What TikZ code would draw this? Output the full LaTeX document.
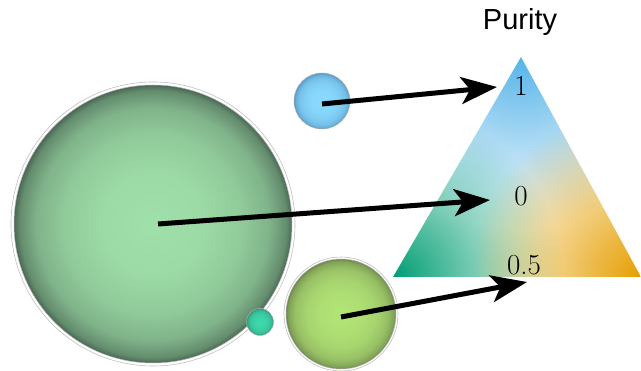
\documentclass[tikz,border=0pt]{standalone}
\usepackage{fontspec}
\usetikzlibrary{arrows.meta,fadings}
\newfontfamily\purityfont{Liberation Sans}

\definecolor{bigin}{RGB}{160,224,170}
\definecolor{bigout}{RGB}{74,104,84}
\definecolor{tealin}{RGB}{62,216,172}
\definecolor{tealout}{RGB}{40,140,112}
\definecolor{midin}{RGB}{178,228,118}
\definecolor{midout}{RGB}{108,134,74}
\definecolor{bluein}{RGB}{138,218,255}
\definecolor{blueout}{RGB}{84,150,196}
\definecolor{skyblue}{RGB}{86,180,233}
\definecolor{bluegreen}{RGB}{0,158,115}
\definecolor{orange}{RGB}{230,159,0}

% sphere look: light middle, darker rim
\newcommand{\declareball}[3]{%
  \pgfdeclareradialshading{#1}{\pgfpoint{0bp}{0bp}}{%
    color(0bp)=(#2); color(9bp)=(#2!95!#3); color(16bp)=(#2!82!#3);
    color(21bp)=(#2!62!#3); color(24bp)=(#2!30!#3);
    color(25bp)=(#3); color(50bp)=(#3)}}
\declareball{bigball}{bigin}{bigout}
\declareball{tealball}{tealin}{tealout}
\declareball{midball}{midin}{midout}
\declareball{blueball}{bluein}{blueout}

\tikzfading[name=cornerfade, inner color=transparent!0, outer color=transparent!100]

\tikzset{
  sphere/.style={circle, inner sep=0pt, draw=black!30, line width=0.5pt},
  halo/.style={draw=black!25, line width=0.6pt},
  pointer/.style={-{Stealth[length=36pt, width=27pt, inset=9pt]}, line width=5pt},
  purity/.style={font=\fontsize{29}{31}\selectfont}
}

\begin{document}
\begin{tikzpicture}[x=1pt, y=-1pt]
  \useasboundingbox (0,0) rectangle (641,371);

  % colour triangle
  \coordinate (top) at (521,57);
  \coordinate (left) at (393,277);
  \coordinate (right) at (641,277);
  \fill[white] (top) -- (left) -- (right) -- cycle;
  \begin{scope}
    \clip (top) -- (left) -- (right) -- cycle;
    \fill[skyblue, path fading=cornerfade] (top) circle[radius=170];
    \fill[bluegreen, path fading=cornerfade] (left) circle[radius=170];
    \fill[orange, path fading=cornerfade] (right) circle[radius=170];
  \end{scope}
  \node[font=\purityfont\fontsize{29}{31}\selectfont] (title) at (520,22) {Purity};
  \node[purity] (one) at (521,86) {1};
  \node[purity] (zero) at (521,196) {0};
  \node[purity] (half) at (524,265) {0.5};

  % spheres
  \draw[halo] (153,224) circle[radius=142];
  \node[sphere, minimum size=278pt, shading=bigball] (big) at (153,224) {};
  \node[sphere, minimum size=27pt, shading=tealball] (tiny) at (260,322) {};
  \draw[halo] (341,314) circle[radius=57];
  \node[sphere, minimum size=110pt, shading=midball] (mid) at (341,314) {};
  \node[sphere, minimum size=56pt, shading=blueball] (blue) at (322,101) {};

  % arrows
  \coordinate (tipone) at (497,87);
  \coordinate (tipzero) at (490,200);
  \coordinate (tiphalf) at (527,282);
  \draw[pointer] ([yshift=-3pt]blue.center) -- (tipone);
  \draw[pointer] ([xshift=5pt]big.center) -- (tipzero);
  \draw[pointer] ([yshift=-3pt]mid.center) -- (tiphalf);
\end{tikzpicture}
\end{document}
